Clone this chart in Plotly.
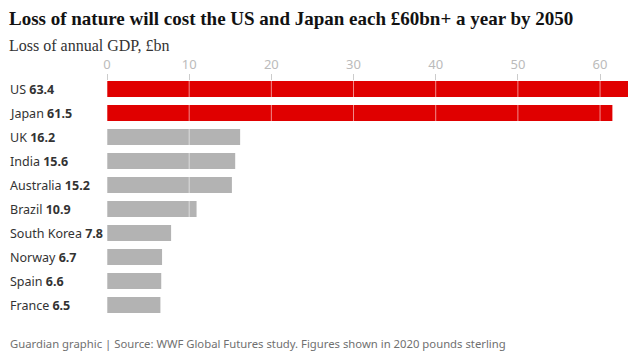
import plotly.graph_objects as go

countries = ["US", "Japan", "UK", "India", "Australia", "Brazil", "South Korea", "Norway", "Spain", "France"]
values = [63.4, 61.5, 16.2, 15.6, 15.2, 10.9, 7.8, 6.7, 6.6, 6.5]
highlight = ["US", "Japan"]
tick_vals = [0, 10, 20, 30, 40, 50, 60]

RED = "#e00000"
GREY = "#b3b3b3"
W, H = 629, 355
L, R, T, B = 107, 1, 81, 38
PW, PH = W - L - R, H - T - B

colors = [RED if c in highlight else GREY for c in countries]

fig = go.Figure()
fig.add_trace(go.Bar(
    x=values, y=countries, orientation="h",
    marker=dict(color=colors, line=dict(width=0)),
    width=0.667, hoverinfo="skip",
))

for v in tick_vals:
    fig.add_shape(type="line", x0=v, x1=v, y0=-0.5, y1=9.5, xref="x", yref="y",
                  line=dict(color="rgba(255,255,255,0.55)", width=1), layer="above")

def px_x(p):
    return (p - L) / PW

def px_y(p):
    return (H - B - p) / PH

annotations = []
for c, v in zip(countries, values):
    annotations.append(dict(
        x=px_x(8), xref="paper", y=c, yref="y", xanchor="left", yanchor="middle",
        text=f"{c} <b>{v}</b>", showarrow=False,
        font=dict(family="Noto Sans", size=12.5, color="#333333"),
    ))

annotations.append(dict(
    x=px_x(7), xref="paper", y=px_y(18), yref="paper", xanchor="left", yanchor="middle",
    text="<b>Loss of nature will cost the US and Japan each £60bn+ a year by 2050</b>",
    showarrow=False, font=dict(family="Liberation Serif", size=19, color="#121212"),
))
annotations.append(dict(
    x=px_x(7), xref="paper", y=px_y(46), yref="paper", xanchor="left", yanchor="middle",
    text="Loss of annual GDP, £bn",
    showarrow=False, font=dict(family="Liberation Serif", size=16, color="#333333"),
))
annotations.append(dict(
    x=px_x(8), xref="paper", y=px_y(343), yref="paper", xanchor="left", yanchor="middle",
    text="Guardian graphic | Source: WWF Global Futures study. Figures shown in 2020 pounds sterling",
    showarrow=False, font=dict(family="Noto Sans", size=11.3, color="#707070"),
))

fig.update_layout(
    width=W, height=H,
    margin=dict(l=L, r=R, t=T, b=B, pad=0),
    paper_bgcolor="white", plot_bgcolor="white",
    showlegend=False,
    annotations=annotations,
    xaxis=dict(
        side="top", range=[0, 63.4], tickvals=tick_vals,
        showgrid=False, zeroline=False, showline=False,
        ticks="outside", ticklen=6, tickcolor="#cccccc", tickwidth=1,
        tickfont=dict(family="Noto Sans", size=13, color="#bbbbbb"),
        fixedrange=True,
    ),
    yaxis=dict(
        categoryorder="array", categoryarray=countries,
        range=[9.5, -0.3335], showticklabels=False, showgrid=False,
        zeroline=False, showline=False, ticks="", fixedrange=True,
    ),
)

fig.write_html(
    "out.html",
    config={"displayModeBar": False},
    post_script="document.body.style.margin='0';document.body.style.overflow='hidden';",
)
